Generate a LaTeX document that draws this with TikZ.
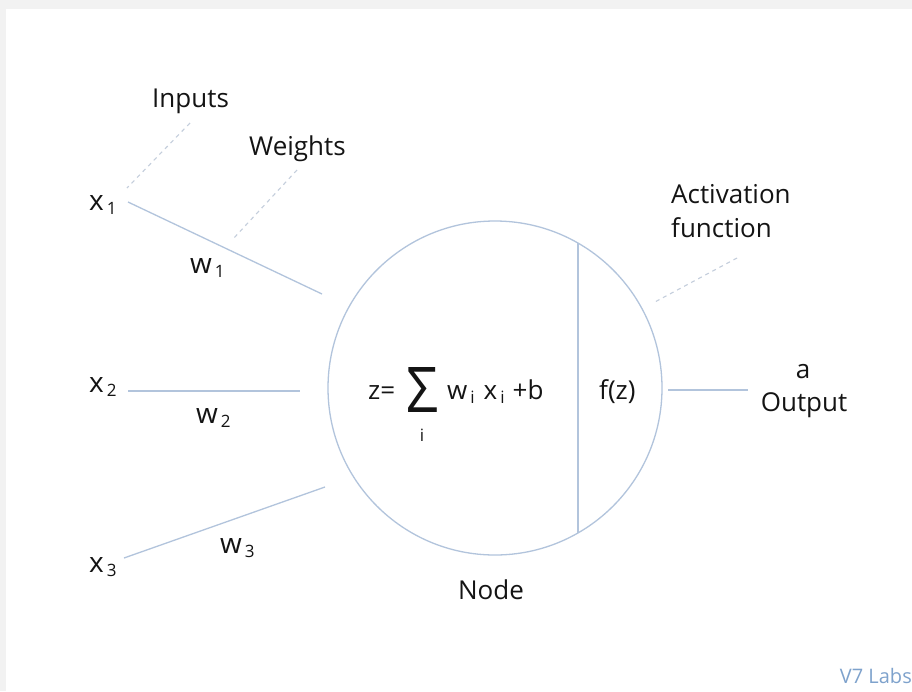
\documentclass[tikz,border=0pt]{standalone}
\usepackage{fontspec}
\setmainfont{Open Sans}
\usepackage{graphicx}
\usepackage{tikz}
\usetikzlibrary{positioning,calc}
\definecolor{WireBlue}{RGB}{178,196,220}
\definecolor{HintGrey}{RGB}{196,206,220}
\definecolor{LabBlue}{RGB}{126,162,204}
\definecolor{FrameGrey}{RGB}{242,242,242}
\newcommand{\lowidx}[1]{\hspace{3pt}\raisebox{-4pt}{\fontsize{17}{17}\selectfont #1}}

\begin{document}
\begin{tikzpicture}[
    x=1pt, y=-1pt,
    % ── styles ──
    lbl/.style   = {inner sep=0pt, anchor=base west,
                    font=\fontsize{26}{34}\selectfont, text=black!92},
    var/.style   = {lbl, font=\fontsize{28}{34}\selectfont},
    wire/.style  = {draw=WireBlue, line width=1.3pt},
    hint/.style  = {draw=HintGrey, line width=1.1pt, dash pattern=on 4pt off 4pt},
    neuron/.style= {circle, draw=WireBlue, line width=1.3pt,
                    minimum size=334pt, inner sep=0pt},
]

% =====================================================================
%  FRAME
% =====================================================================
\fill[FrameGrey] (0,0) rectangle (912,691);
\fill[white] (6,9) rectangle (912,691);
\useasboundingbox (0,0) rectangle (912,691);

% =====================================================================
%  NODE (circle with divider)
% =====================================================================
\node[neuron] (cell) at (495,388) {};
\coordinate (split) at (578,388);
\draw[wire] (split |- 0,243) coordinate (split-top)
         -- (split |- 0,533) coordinate (split-bot);

\node[lbl] (zeq) at (368,399) {z=};
\node[lbl, anchor=north west] (sigma) at (406,367)
    {\resizebox{32pt}{45pt}{Σ}};
\node[lbl, font=\fontsize{17}{17}\selectfont, anchor=base] (sumidx) at (422,441) {i};
\node[lbl] (sumterm) at (447,399) {w\lowidx{i}\hspace{9pt}x\lowidx{i}\hspace{8pt}+b};
\node[lbl] (fz) at (599,399) {f(z)};
\node[lbl, anchor=base] (nodelbl) at (491,599) {Node};

% =====================================================================
%  INPUTS & WEIGHTS
% =====================================================================
\node[var] (x1) at (89,210) {x\lowidx{1}};
\node[var] (x2) at (89,392) {x\lowidx{2}};
\node[var] (x3) at (89,572) {x\lowidx{3}};

\node[var] (w1) at (190,273) {w\lowidx{1}};
\node[var] (w2) at (196,423) {w\lowidx{2}};
\node[var] (w3) at (220,553) {w\lowidx{3}};

\coordinate (x1-out) at (128,202);
\coordinate (x2-out) at (128,391);
\coordinate (x3-out) at (124,558);
\coordinate (in1) at (322,294);
\coordinate (in2) at (300,391);
\coordinate (in3) at (325,487);

\draw[wire] (x1-out) -- (in1);
\draw[wire] (x2-out) -- (in2);
\draw[wire] (x3-out) -- (in3);

% ── callouts
\node[lbl] (inputs) at (152,107) {Inputs};
\node[lbl] (weights) at (249,155) {Weights};
\coordinate (inputs-tip) at (190,123);
\coordinate (inputs-foot) at (127,188);
\coordinate (weights-tip) at (297,170);
\coordinate (weights-foot) at (233,239);
\draw[hint] (inputs-tip) -- (inputs-foot);
\draw[hint] (weights-tip) -- (weights-foot);

% =====================================================================
%  ACTIVATION & OUTPUT
% =====================================================================
\node[lbl] (act) at (671,203) {Activation};
\node[lbl, below=34pt of act.base west, anchor=base west] (actfn) {function};
\coordinate (act-tip) at (737,258);
\coordinate (act-foot) at (653,303);
\draw[hint] (act-tip) -- (act-foot);

\coordinate (out-in) at (668,390);
\coordinate (out-end) at (748,390);
\draw[wire] (out-in) -- (out-end);
\node[lbl, anchor=base] (aval) at (803,378) {a};
\node[lbl, anchor=base] (output) at (804,411) {Output};

% ── watermark
\node[lbl, anchor=base east, font=\fontsize{20}{20}\selectfont, text=LabBlue]
    (brand) at (912,683) {V7 Labs};

\end{tikzpicture}
\end{document}
